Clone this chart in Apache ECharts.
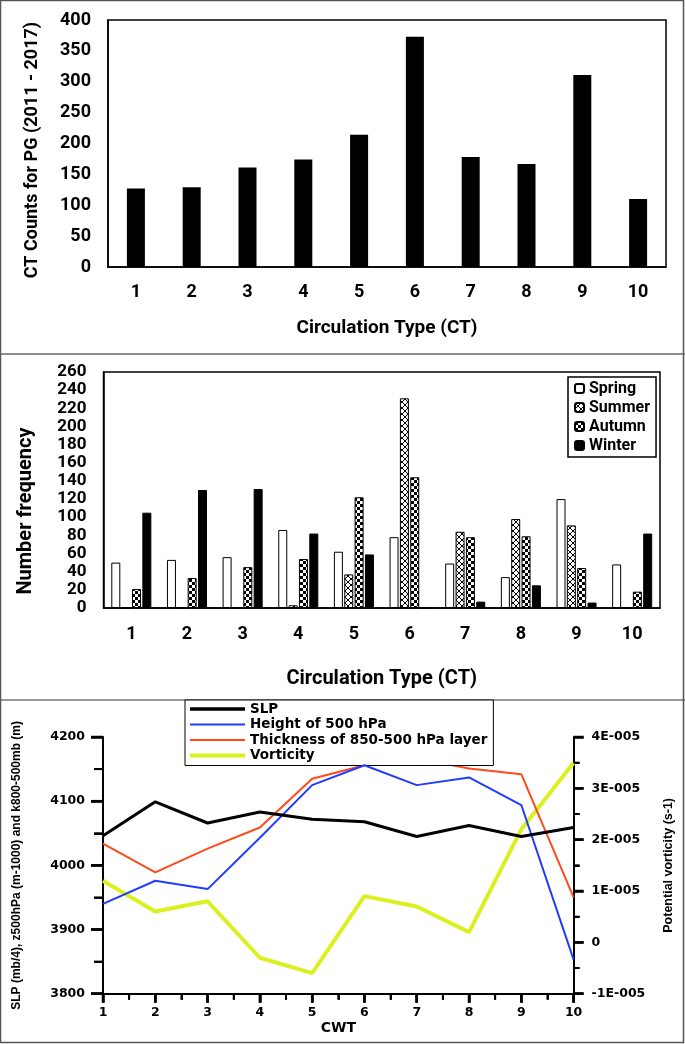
<!DOCTYPE html>
<html>
<head>
<meta charset="utf-8">
<script src="https://cdn.jsdelivr.net/npm/echarts@6/dist/echarts.min.js"></script>
<style>
html,body{margin:0;padding:0;background:#fff;}
#chart{width:685px;height:1044px;}
</style>
</head>
<body>
<div id="chart"></div>
<script>
// ---- Data ----
const categories = ['1','2','3','4','5','6','7','8','9','10'];
const ctCounts = [127,129,161,174,214,373,178,167,311,110];

const seasons = ['Spring','Summer','Autumn','Winter'];
const spring = [50,53,56,86,62,78,49,34,120,48];
const summer = [0,0,0,3,37,231,84,98,91,0];
const autumn = [21,33,45,54,122,144,78,79,44,18];
const winter = [105,130,131,82,59,0,7,25,6,82];

const cwt = [1,2,3,4,5,6,7,8,9,10];
const slp = [4046,4099,4066,4083,4072,4068,4045,4062,4045,4059];
const height500 = [3940,3976,3963,4043,4125,4156,4125,4137,4094,3853];
const thickness = [4034,3989,4026,4059,4135,4156,4167,4151,4142,3950];
const vorticity = [1.2e-5,0.6e-5,0.8e-5,-0.3e-5,-0.6e-5,0.9e-5,0.7e-5,0.2e-5,2.2e-5,3.5e-5];

const lineNames = ['SLP','Height of 500 hPa','Thickness of 850-500 hPa layer','Vorticity'];
const vortTickLabels = {'-1':'-1E-005','0':'0','1':'1E-005','2':'2E-005','3':'3E-005','4':'4E-005'};

// tick positions of the bottom panel
const xMajorTicks = [1,2,3,4,5,6,7,8,9,10];
const xMinorTicks = [1.5,2.5,3.5,4.5,5.5,6.5,7.5,8.5,9.5];
const leftMajorTicks = [3800,3900,4000,4100,4200];
const leftMinorTicks = [3850,3950,4050,4150];
const rightMajorTicks = [-1e-5,0,1e-5,2e-5,3e-5,4e-5];
const rightMinorTicks = [-0.5e-5,0.5e-5,1.5e-5,2.5e-5,3.5e-5];

// ---- Patterns ----
function crossPattern(){
  const c=document.createElement('canvas'); c.width=6; c.height=6;
  const g=c.getContext('2d');
  g.fillStyle='#fff'; g.fillRect(0,0,6,6);
  g.strokeStyle='#000'; g.lineWidth=1;
  g.beginPath(); g.moveTo(0,0); g.lineTo(6,6); g.moveTo(6,0); g.lineTo(0,6); g.stroke();
  return c;
}
function checkerPattern(){
  const c=document.createElement('canvas'); c.width=6; c.height=6;
  const g=c.getContext('2d');
  g.fillStyle='#fff'; g.fillRect(0,0,6,6);
  g.fillStyle='#000'; g.fillRect(0,0,3,3); g.fillRect(3,3,3,3);
  return c;
}
// legend line icon of given thickness inside a 55x14 box
function lineIcon(t){
  const y0 = (7 - t/2).toFixed(2), y1 = (7 + t/2).toFixed(2);
  return 'path://M0,' + y0 + 'H55V' + y1 + 'H0Z M0,0H0.05V0.05H0Z M54.95,13.95H55V14H54.95Z';
}

const calib = 'Roboto, "Open Sans", sans-serif';
const arialB = '"Liberation Sans", Arial, sans-serif';
const wideB = '"DejaVu Sans", Verdana, sans-serif';

const chart = echarts.init(document.getElementById('chart'), null, {renderer:'canvas'});

const baseGraphic = [
  {id:'frame', type:'rect', shape:{x:0.5,y:0.5,width:683,height:1042}, style:{fill:'none',stroke:'#555',lineWidth:1.5}, z:100},
  {id:'sep1', type:'line', shape:{x1:0,y1:354,x2:685,y2:354}, style:{stroke:'#666',lineWidth:1.5}, z:100},
  {id:'sep2', type:'line', shape:{x1:0,y1:700,x2:685,y2:700}, style:{stroke:'#999',lineWidth:2}, z:0}
];

const bottomTick = {show:true, inside:false, length:10, lineStyle:{color:'#000', width:2.5}};
const bottomMinor = {show:true, splitNumber:2, length:6, lineStyle:{color:'#000', width:2}};

const option = {
  animation:false,
  backgroundColor:'#fff',
  graphic:baseGraphic,
  grid:[
    {left:108, top:20, width:558, height:247, show:true, borderColor:'#000', borderWidth:1.5, containLabel:false},
    {left:103.5, top:372, width:556.5, height:236, show:true, borderColor:'#000', borderWidth:1.5, containLabel:false},
    {left:103, top:737, width:470.6, height:256.7, containLabel:false}
  ],
  legend:[
    {
      data:seasons, orient:'vertical', left:568, top:377,
      backgroundColor:'#fff', borderColor:'#000', borderWidth:1.5,
      padding:[3,6,3,6], itemWidth:9, itemHeight:9, itemGap:2,
      textStyle:{fontFamily:calib, fontWeight:'bold', fontSize:16, color:'#000', lineHeight:17}
    },
    {
      data:[
        {name:lineNames[0], icon:lineIcon(3.5)},
        {name:lineNames[1], icon:lineIcon(2)},
        {name:lineNames[2], icon:lineIcon(2)},
        {name:lineNames[3], icon:lineIcon(4)}
      ],
      orient:'vertical', left:185, top:700,
      backgroundColor:'#fff', borderColor:'#000', borderWidth:1,
      padding:[2,6,3,5], itemWidth:55, itemHeight:14, itemGap:1.5,
      textStyle:{fontFamily:wideB, fontWeight:'bold', fontSize:13.5, color:'#000', lineHeight:14}
    }
  ],
  xAxis:[
    {
      gridIndex:0, type:'category', data:categories,
      axisLine:{lineStyle:{color:'#000',width:1.5}}, axisTick:{show:false},
      axisLabel:{fontFamily:calib, fontWeight:'bold', fontSize:18, color:'#000', margin:16},
      name:'Circulation Type (CT)', nameLocation:'middle', nameGap:52,
      nameTextStyle:{fontFamily:calib, fontWeight:'bold', fontSize:19, color:'#000'}
    },
    {
      gridIndex:1, type:'category', data:categories,
      axisLine:{lineStyle:{color:'#000',width:1.5}}, axisTick:{show:false},
      axisLabel:{fontFamily:calib, fontWeight:'bold', fontSize:18, color:'#000', margin:17},
      name:'Circulation Type (CT)', nameLocation:'middle', nameGap:61,
      nameTextStyle:{fontFamily:calib, fontWeight:'bold', fontSize:20, color:'#000'}
    },
    {
      gridIndex:2, type:'value', min:1, max:10, interval:1,
      axisLine:{show:true, onZero:false, lineStyle:{color:'#000',width:2}},
      axisTick:Object.assign({}, bottomTick, {length:9}),
      minorTick:bottomMinor,
      splitLine:{show:false}, minorSplitLine:{show:false},
      axisLabel:{fontFamily:wideB, fontWeight:'bold', fontSize:12.5, color:'#000', margin:13},
      name:'CWT', nameLocation:'middle', nameGap:28,
      nameTextStyle:{fontFamily:wideB, fontWeight:'bold', fontSize:14, color:'#000'}
    }
  ],
  yAxis:[
    {
      gridIndex:0, type:'value', min:0, max:400, interval:50,
      axisLine:{show:true, lineStyle:{color:'#000',width:1.5}}, axisTick:{show:false},
      splitLine:{show:false},
      axisLabel:{fontFamily:calib, fontWeight:'bold', fontSize:18, color:'#000', margin:17},
      name:'CT Counts for PG (2011 - 2017)', nameLocation:'middle', nameRotate:90, nameGap:67,
      nameTextStyle:{fontFamily:calib, fontWeight:'bold', fontSize:18, color:'#000', padding:[0,13,0,0]}
    },
    {
      gridIndex:1, type:'value', min:0, max:260, interval:20,
      axisLine:{show:true, lineStyle:{color:'#000',width:1.5}}, axisTick:{show:false},
      splitLine:{show:false},
      axisLabel:{fontFamily:calib, fontWeight:'bold', fontSize:17, color:'#000', margin:17},
      name:'Number frequency', nameLocation:'middle', nameRotate:90, nameGap:68,
      nameTextStyle:{fontFamily:calib, fontWeight:'bold', fontSize:20, color:'#000', padding:[0,42,0,0]}
    },
    {
      gridIndex:2, type:'value', min:3800, max:4200, interval:100, position:'left',
      axisLine:{show:true, onZero:false, lineStyle:{color:'#000',width:2}},
      axisTick:Object.assign({}, bottomTick, {length:12}),
      minorTick:Object.assign({}, bottomMinor, {length:9}),
      splitLine:{show:false}, minorSplitLine:{show:false},
      axisLabel:{fontFamily:wideB, fontWeight:'bold', fontSize:12.5, color:'#000', margin:18,
        formatter:function(v){ return String(v); }},
      name:'SLP (mb/4), z500hPa (m-1000) and k800-500mb (m)', nameLocation:'middle', nameRotate:90, nameGap:80,
      nameTextStyle:{fontFamily:arialB, fontWeight:'bold', fontSize:12, color:'#000'}
    },
    {
      gridIndex:2, type:'value', min:-1e-5, max:4e-5, interval:1e-5, position:'right',
      axisLine:{show:true, onZero:false, lineStyle:{color:'#000',width:2}},
      axisTick:bottomTick,
      minorTick:bottomMinor,
      splitLine:{show:false}, minorSplitLine:{show:false},
      axisLabel:{fontFamily:wideB, fontWeight:'bold', fontSize:12.5, color:'#000', margin:18,
        formatter:function(v){ const k=Math.round(v*1e5); return vortTickLabels[String(k)] || ''; }},
      name:'Potential vorticity (s-1)', nameLocation:'middle', nameRotate:90, nameGap:88,
      nameTextStyle:{fontFamily:arialB, fontWeight:'bold', fontSize:12.5, color:'#000'}
    }
  ],
  series:[
    {
      type:'bar', xAxisIndex:0, yAxisIndex:0, data:ctCounts, barWidth:18,
      itemStyle:{color:'#000'}
    },
    {
      name:'Spring', type:'bar', xAxisIndex:1, yAxisIndex:1, data:spring, barWidth:9, barGap:'15%',
      itemStyle:{color:'#fff', borderColor:'#000', borderWidth:1}
    },
    {
      name:'Summer', type:'bar', xAxisIndex:1, yAxisIndex:1, data:summer, barWidth:9, barGap:'15%',
      itemStyle:{color:{image:crossPattern(), repeat:'repeat'}, borderColor:'#000', borderWidth:1}
    },
    {
      name:'Autumn', type:'bar', xAxisIndex:1, yAxisIndex:1, data:autumn, barWidth:9, barGap:'15%',
      itemStyle:{color:{image:checkerPattern(), repeat:'repeat'}, borderColor:'#000', borderWidth:1}
    },
    {
      name:'Winter', type:'bar', xAxisIndex:1, yAxisIndex:1, data:winter, barWidth:9, barGap:'15%',
      itemStyle:{color:'#000', borderColor:'#000', borderWidth:1}
    },
    {
      name:lineNames[0], type:'line', xAxisIndex:2, yAxisIndex:2,
      data:cwt.map((x,i)=>[x,slp[i]]), symbol:'none', showSymbol:false,
      lineStyle:{color:'#000', width:3}, itemStyle:{color:'#000'}, z:5
    },
    {
      name:lineNames[1], type:'line', xAxisIndex:2, yAxisIndex:2,
      data:cwt.map((x,i)=>[x,height500[i]]), symbol:'none', showSymbol:false,
      lineStyle:{color:'#1f3cff', width:2}, itemStyle:{color:'#1f3cff'}, z:4
    },
    {
      name:lineNames[2], type:'line', xAxisIndex:2, yAxisIndex:2,
      data:cwt.map((x,i)=>[x,thickness[i]]), symbol:'none', showSymbol:false,
      lineStyle:{color:'#ff4a1c', width:2}, itemStyle:{color:'#ff4a1c'}, z:3
    },
    {
      name:lineNames[3], type:'line', xAxisIndex:2, yAxisIndex:3,
      data:cwt.map((x,i)=>[x,vorticity[i]]), symbol:'none', showSymbol:false,
      lineStyle:{color:'#dcf020', width:4}, itemStyle:{color:'#dcf020'}, z:2
    }
  ]
};
chart.setOption(option);

// ---- extra tick marks of the bottom panel, positioned through the series' coordinate systems ----
function tickRects(values, side, seriesIndex, anchor, len, w, tag){
  return values.map(function(v, i){
    const val = side === 'bottom' ? [v, anchor] : [anchor, v];
    const p = chart.convertToPixel({seriesIndex:seriesIndex}, val);
    if (!p || isNaN(p[0]) || isNaN(p[1])) return null;
    let shape;
    if (side === 'bottom') shape = {x:p[0]-w/2, y:p[1], width:w, height:len};
    else if (side === 'left') shape = {x:p[0]-len, y:p[1]-w/2, width:len, height:w};
    else shape = {x:p[0], y:p[1]-w/2, width:len, height:w};
    return {id:tag+i, type:'rect', shape:shape, style:{fill:'#000'}, z:120, silent:true};
  }).filter(Boolean);
}
const ticks = [].concat(
  tickRects(xMajorTicks, 'bottom', 5, 3800, 9, 2.5, 'xM'),
  tickRects(xMinorTicks, 'bottom', 5, 3800, 6, 2, 'xm'),
  tickRects(leftMajorTicks, 'left', 5, 1, 12, 2.5, 'lM'),
  tickRects(leftMinorTicks, 'left', 5, 1, 9, 2, 'lm'),
  tickRects(rightMajorTicks, 'right', 8, 10, 10, 2.5, 'rM'),
  tickRects(rightMinorTicks, 'right', 8, 10, 6, 2, 'rm')
);
chart.setOption({graphic: baseGraphic.concat(ticks)});
</script>
</body>
</html>
